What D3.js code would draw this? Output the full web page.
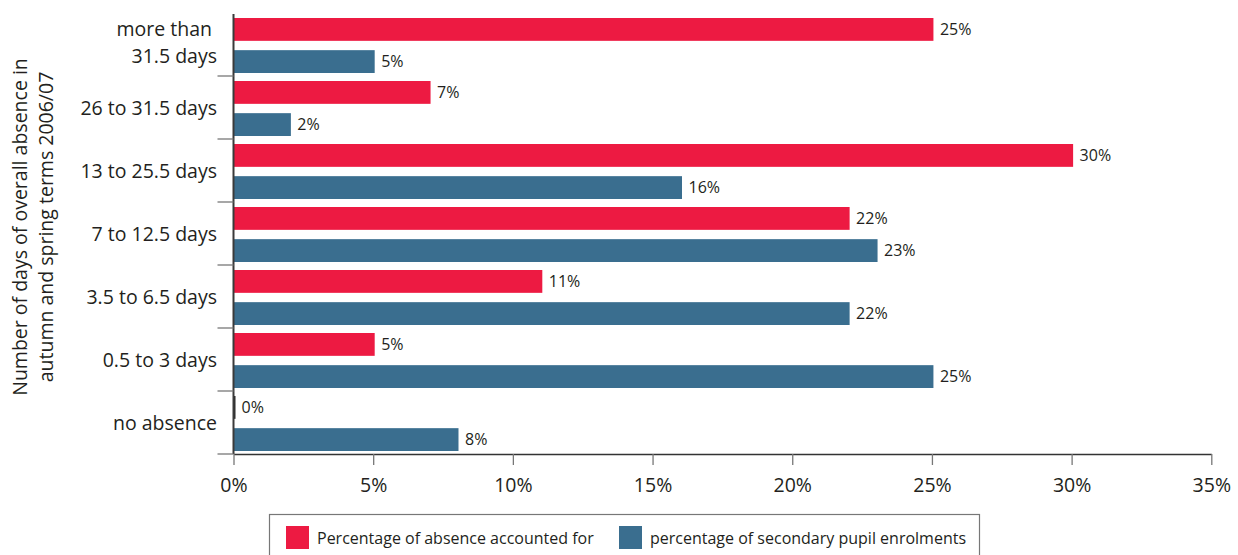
<!DOCTYPE html>
<html>
<head>
<meta charset="utf-8">
<script src="https://cdn.jsdelivr.net/npm/d3@7"></script>
<style>
  html, body { margin: 0; padding: 0; background: #fff; }
  svg { display: block; font-family: "Open Sans", "Noto Sans", sans-serif; }
</style>
</head>
<body>
<svg id="chart" width="1238" height="555"></svg>
<script>
// ---- data ----
const categories = ["more than 31.5 days", "26 to 31.5 days", "13 to 25.5 days", "7 to 12.5 days", "3.5 to 6.5 days", "0.5 to 3 days", "no absence"];
const categoryLines = [["more than\u00A0", "31.5 days"], ["26 to 31.5 days"], ["13 to 25.5 days"], ["7 to 12.5 days"], ["3.5 to 6.5 days"], ["0.5 to 3 days"], ["no absence"]];
const seriesNames = ["Percentage of absence accounted for", "percentage of secondary pupil enrolments"];
const absenceShare = [25, 7, 30, 22, 11, 5, 0];
const enrolmentShare = [5, 2, 16, 23, 22, 25, 8];
const xTicks = [0, 5, 10, 15, 20, 25, 30, 35];
const yTitleLines = ["Number of days of overall absence in", "autumn and spring terms 2006/07"];
const colors = ["#ED1A42", "#3A6E8F"];

const svg = d3.select("#chart");

const x = d3.scaleLinear().domain([0, 35]).range([233.5, 1211.3]);
const y = d3.scaleBand().domain(categories).range([13, 454]).paddingInner(0).paddingOuter(0);
const inner = d3.scaleBand().domain(seriesNames).range([5, 60]).paddingInner(0.29).paddingOuter(0);

const rows = categories.map((c, i) => ({ cat: c, lines: categoryLines[i], vals: [absenceShare[i], enrolmentShare[i]] }));

// bars
const g = svg.append("g");
rows.forEach(r => {
  r.vals.forEach((v, si) => {
    const yy = y(r.cat) + inner(seriesNames[si]);
    const w = x(v) - x(0);
    if (v === 0) {
      g.append("rect")
        .attr("x", x(0)).attr("y", yy)
        .attr("width", 2).attr("height", inner.bandwidth())
        .attr("fill", "#2b2b2b");
    } else {
      g.append("rect")
        .attr("x", x(0)).attr("y", yy)
        .attr("width", w + 1.5).attr("height", inner.bandwidth())
        .attr("fill", colors[si]);
    }
    g.append("text")
      .attr("x", x(v) + 8)
      .attr("y", yy + inner.bandwidth() / 2)
      .attr("dy", "0.36em")
      .attr("font-size", "16px")
      .attr("fill", "#231f20")
      .text(v + "%");
  });
});

// x axis
const xAxis = d3.axisBottom(x).tickValues(xTicks).tickFormat(d => d + "%").tickSizeInner(11).tickSizeOuter(0);
const xg = svg.append("g").attr("transform", "translate(0,454)").call(xAxis);
xg.select(".domain").attr("stroke", "#333").attr("stroke-width", 1.5);
xg.selectAll(".tick line").attr("stroke", "#777").attr("stroke-width", 1.3);
xg.selectAll(".tick text").attr("y", 24).attr("font-size", "19.5px").attr("font-family", "Open Sans").attr("fill", "#231f20");

// y axis line and boundary ticks
svg.append("line")
  .attr("x1", x(0)).attr("x2", x(0))
  .attr("y1", y.range()[0] + 1).attr("y2", y.range()[1])
  .attr("stroke", "#3a3a3a").attr("stroke-width", 2);
svg.selectAll(".ytick").data(categories).enter().append("line")
  .attr("class", "ytick")
  .attr("x1", x(0) - 16).attr("x2", x(0))
  .attr("y1", d => y(d) + y.bandwidth()).attr("y2", d => y(d) + y.bandwidth())
  .attr("stroke", "#777").attr("stroke-width", 1.3);

// category labels
rows.forEach(r => {
  const cy = y(r.cat) + y.bandwidth() / 2;
  const t = svg.append("text")
    .attr("text-anchor", "end")
    .attr("font-size", "19.5px")
    .attr("fill", "#231f20");
  if (r.lines.length === 1) {
    t.append("tspan").attr("x", 217).attr("y", cy + 7.3).text(r.lines[0]);
  } else {
    t.append("tspan").attr("x", 217).attr("y", cy - 8.5).text(r.lines[0]);
    t.append("tspan").attr("x", 217).attr("y", cy + 18.2).text(r.lines[1]);
  }
});

// y title
const yt = svg.append("text")
  .attr("transform", "translate(0,227) rotate(-90)")
  .attr("text-anchor", "middle")
  .attr("font-size", "19.5px")
  .attr("fill", "#231f20");
yt.append("tspan").attr("x", 0).attr("y", 27).text(yTitleLines[0]);
yt.append("tspan").attr("x", 0).attr("y", 53).text(yTitleLines[1]);

// legend
svg.append("rect")
  .attr("x", 269.5).attr("y", 514.5).attr("width", 710).attr("height", 50)
  .attr("fill", "none").attr("stroke", "#777").attr("stroke-width", 1.2);
const legendX = [286, 619];
seriesNames.forEach((s, i) => {
  svg.append("rect").attr("x", legendX[i]).attr("y", 526).attr("width", 23).attr("height", 23).attr("fill", colors[i]);
  svg.append("text").attr("x", legendX[i] + 31).attr("y", 544)
    .attr("font-size", "16px").attr("fill", "#231f20").text(s);
});
</script>
</body>
</html>
